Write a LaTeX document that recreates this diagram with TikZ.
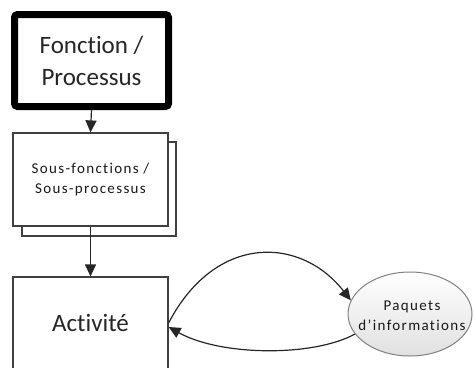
\documentclass[tikz,border=0pt]{standalone}
\usepackage{fontspec}
\setmainfont{Carlito}[Ligatures=NoCommon]
\usetikzlibrary{arrows.meta,shapes.geometric}
\begin{document}
\begin{tikzpicture}[x=1pt,y=-1pt,
  box/.style={draw=black!75, line width=1.2pt, fill=white, rectangle, inner sep=0pt},
  conn/.style={draw=black!85, line width=1.2pt, -{Triangle[length=12pt,width=11pt]}},
  big/.style={font=\fontsize{25}{32}\selectfont, text=black!85, align=center},
  small/.style={font=\fontsize{15}{20}\selectfont\addfontfeature{LetterSpace=9}, text=black!90, align=center}]
\useasboundingbox (0,0) rectangle (473,367);
\node[draw=black, line width=7pt, rounded corners=3pt, fill=white, minimum width=154pt, minimum height=92pt, big] (fn) at (91.5,60.5) {Fonction /\\Processus};
\node[box, minimum width=154pt, minimum height=94pt] (sh) at (99,189) {};
\node[box, minimum width=155pt, minimum height=93pt, small] (sub) at (90.5,179.5) {Sous-fonctions /\\Sous-processus};
\node[box, minimum width=155pt, minimum height=92pt, big] (act) at (90.5,323) {Activité};
\node[ellipse, draw=black!50, line width=1pt, top color=white, bottom color=black!12, minimum width=124pt, minimum height=84pt, inner sep=0pt] (pk) at (410,314) {};
\node[small, inner sep=0pt] (pkt) at (412,316) {Paquets\\d’informations};
\draw[conn] (fn.south) -- (sub.north);
\draw[conn] (sub.south) -- (act.north);
\draw[conn] (act.east) .. controls +(47,-90) and +(-50,-64) .. (pk.167);
\draw[conn] (pk.200) .. controls +(-42,23) and +(52,29) .. ([yshift=-4pt]act.east);
\end{tikzpicture}
\end{document}
